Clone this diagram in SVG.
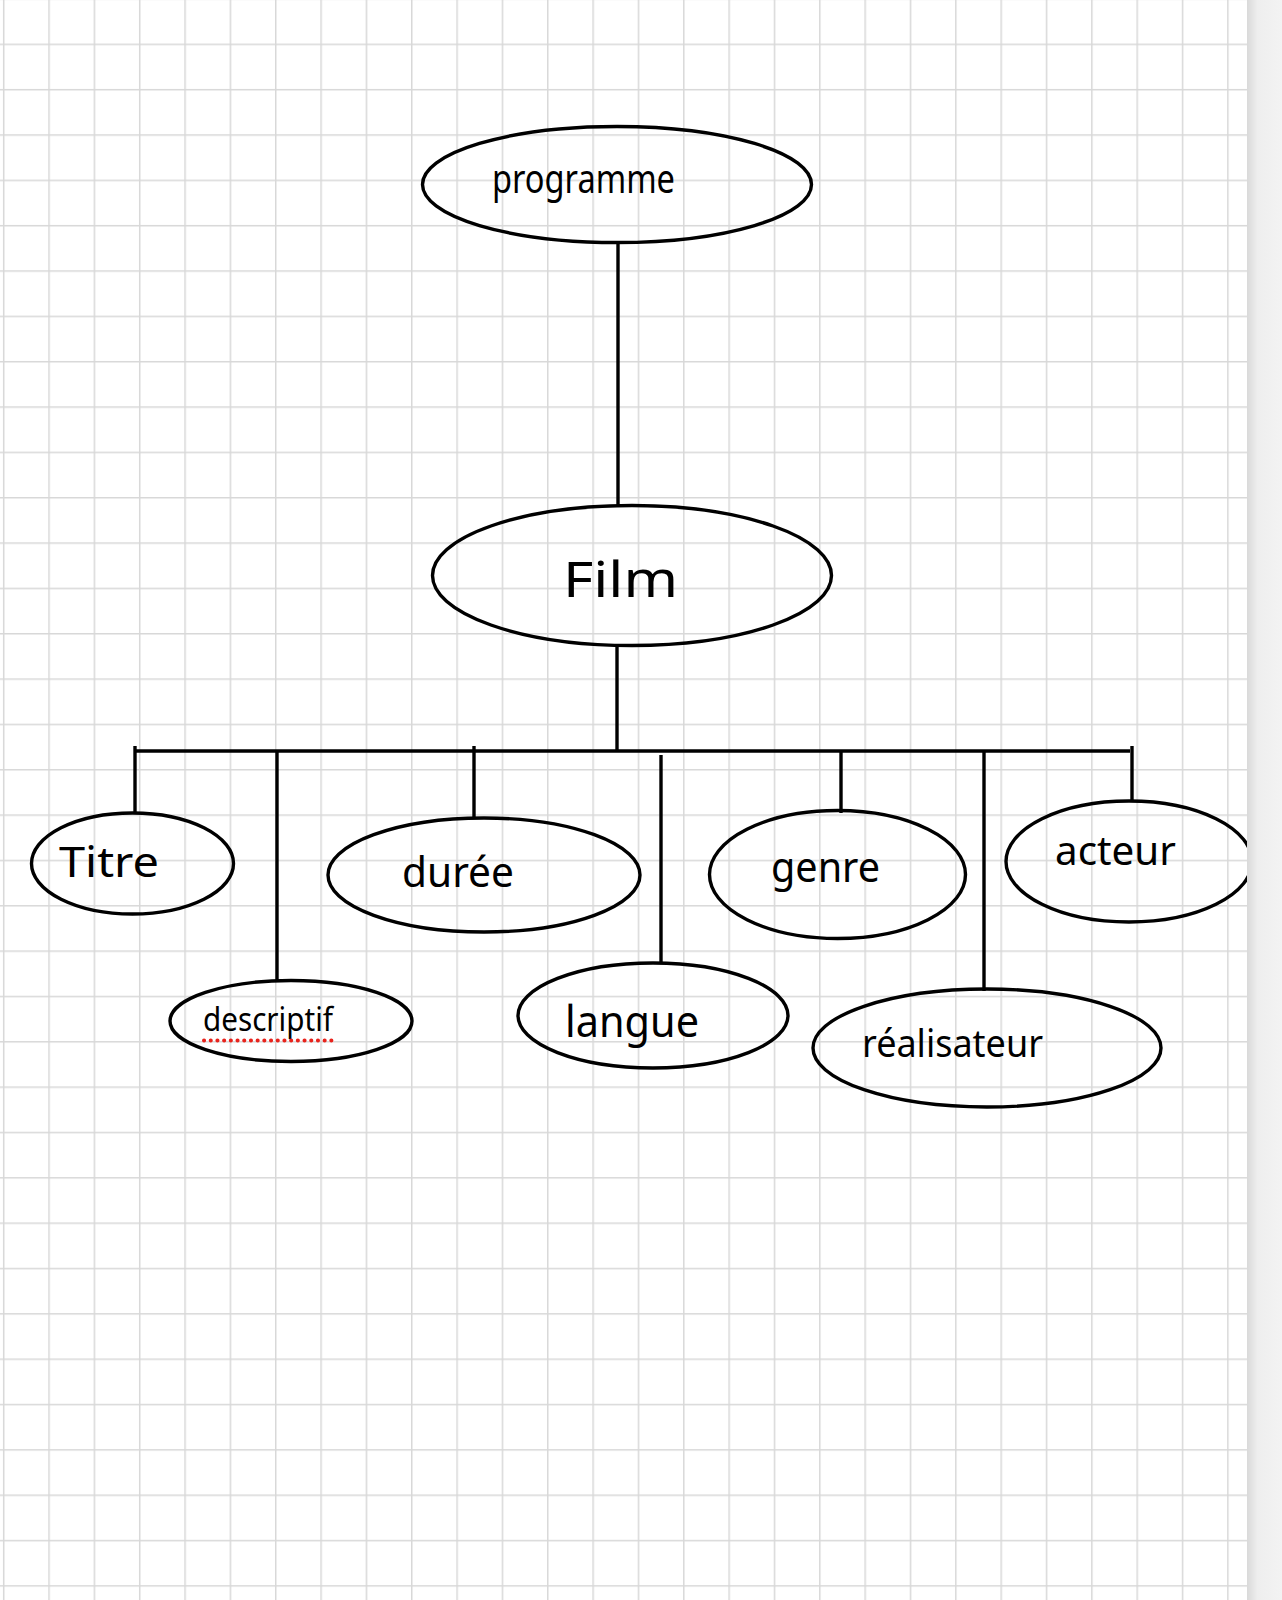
<svg xmlns="http://www.w3.org/2000/svg" width="1282" height="1600" viewBox="0 0 1282 1600">
  <defs>
    <pattern id="grid" patternUnits="userSpaceOnUse" x="2.95" y="-1.75" width="45.34" height="45.34">
      <path d="M0.75 0 V45.34 M0 0.75 H45.34" stroke="#d8d8d8" stroke-width="1.5" fill="none"/>
    </pattern>
    <linearGradient id="shadow" x1="0" y1="0" x2="1" y2="0">
      <stop offset="0" stop-color="#d9d9d9"/>
      <stop offset="0.3" stop-color="#eeeeee"/>
      <stop offset="1" stop-color="#f3f3f3"/>
    </linearGradient>
    <clipPath id="paper"><rect x="0" y="0" width="1247" height="1600"/></clipPath>
  </defs>
  <style>
    .node ellipse { fill: none; stroke: #000; stroke-width: 3.4; }
    .node text { font-family: "Noto Sans", "Liberation Sans", sans-serif; fill: #000; }
    #connectors path { stroke: #000; stroke-width: 3.4; fill: none; stroke-linecap: butt; }
  </style>
  <rect x="0" y="0" width="1282" height="1600" fill="#f3f3f3"/>
  <rect x="1247" y="0" width="35" height="1600" fill="url(#shadow)"/>
  <rect x="0" y="0" width="1247" height="1600" fill="#ffffff"/>
  <rect x="0" y="0" width="1247" height="1600" fill="url(#grid)"/>

  <g clip-path="url(#paper)">
    <g id="connectors">
      <path d="M618 243 V505"/>
      <path d="M617 646 V751"/>
      <path d="M136 751 H1130"/>
      <path d="M135 746 V813"/>
      <path d="M277 751 V981"/>
      <path d="M474 746 V818"/>
      <path d="M661 755 V963"/>
      <path d="M841 751 V813"/>
      <path d="M984 751 V991"/>
      <path d="M1132 746 V802"/>
    </g>

    <g id="node-programme" class="node">
      <ellipse cx="617" cy="184.5" rx="194.5" ry="58"/>
      <text x="492" y="193" font-size="40" textLength="183" lengthAdjust="spacingAndGlyphs">programme</text>
    </g>
    <g id="node-film" class="node">
      <ellipse cx="632" cy="575.5" rx="199.5" ry="70"/>
      <text x="563" y="597" font-size="50" textLength="115" lengthAdjust="spacingAndGlyphs">Film</text>
    </g>
    <g id="node-titre" class="node">
      <ellipse cx="132.5" cy="863.5" rx="101" ry="50.5"/>
      <text x="59" y="877" font-size="42" textLength="100" lengthAdjust="spacingAndGlyphs">Titre</text>
    </g>
    <g id="node-descriptif" class="node">
      <ellipse cx="291" cy="1021" rx="121" ry="40.5"/>
      <text x="203" y="1031" font-size="32" textLength="130" lengthAdjust="spacingAndGlyphs">descriptif</text>
      <line x1="204" y1="1040.5" x2="334" y2="1040.5" stroke="#e8231c" stroke-width="4" stroke-dasharray="0.1 6.6" stroke-linecap="round"/>
    </g>
    <g id="node-duree" class="node">
      <ellipse cx="484" cy="875" rx="156" ry="57"/>
      <text x="402" y="887" font-size="42" textLength="112" lengthAdjust="spacingAndGlyphs">durée</text>
    </g>
    <g id="node-langue" class="node">
      <ellipse cx="653" cy="1015.5" rx="135" ry="52.5"/>
      <text x="565" y="1037" font-size="44" textLength="134" lengthAdjust="spacingAndGlyphs">langue</text>
    </g>
    <g id="node-genre" class="node">
      <ellipse cx="837.5" cy="874.5" rx="128" ry="64"/>
      <text x="771" y="882" font-size="42" textLength="109" lengthAdjust="spacingAndGlyphs">genre</text>
    </g>
    <g id="node-realisateur" class="node">
      <ellipse cx="987" cy="1048" rx="174" ry="59"/>
      <text x="862" y="1057" font-size="38" textLength="181" lengthAdjust="spacingAndGlyphs">réalisateur</text>
    </g>
    <g id="node-acteur" class="node">
      <ellipse cx="1129" cy="861.5" rx="123" ry="60.5"/>
      <text x="1055" y="865" font-size="40" textLength="121" lengthAdjust="spacingAndGlyphs">acteur</text>
    </g>
  </g>
</svg>
